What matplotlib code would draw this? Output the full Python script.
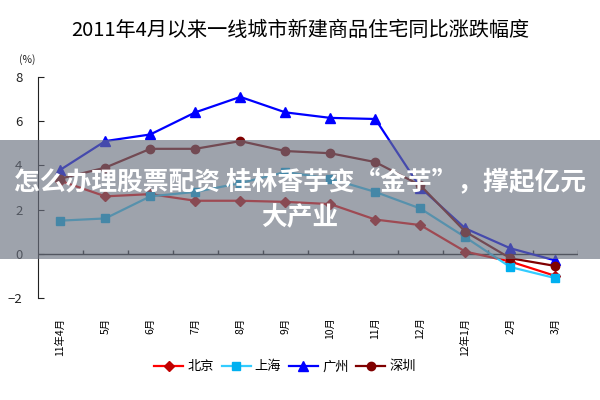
import numpy as np
import matplotlib
matplotlib.use("Agg")
import matplotlib.pyplot as plt
from matplotlib.patches import Rectangle

plt.rcParams['font.family'] = ['Noto Sans CJK SC', 'DejaVu Sans']

months = ['11年4月', '5月', '6月', '7月', '8月', '9月', '10月', '11月', '12月', '12年1月', '2月', '3月']
beijing = [3.3, 2.6, 2.7, 2.4, 2.4, 2.35, 2.25, 1.55, 1.3, 0.1, -0.35, -1.0]
shanghai = [1.5, 1.6, 2.6, 2.8, 3.2, 3.7, 3.4, 2.8, 2.05, 0.75, -0.6, -1.1]
guangzhou = [3.8, 5.1, 5.4, 6.4, 7.1, 6.4, 6.15, 6.1, 3.0, 1.15, 0.25, -0.3]
shenzhen = [3.4, 3.9, 4.75, 4.75, 5.1, 4.65, 4.55, 4.15, 3.1, 1.0, -0.2, -0.55]

series = [
    ('北京', beijing, '#ff0000', '#c00000', 'D', 5),
    ('上海', shanghai, '#33ccff', '#00b0f0', 's', 6),
    ('广州', guangzhou, '#0000ff', '#0000ff', '^', 7),
    ('深圳', shenzhen, '#800000', '#800000', 'o', 6),
]

fig = plt.figure(figsize=(6, 4), dpi=100)
ax = fig.add_axes([0.063, 0.255, 0.9, 0.5525])

x = np.arange(len(months))
for name, vals, lc, mc, mk, ms in series:
    ax.plot(x, vals, color=lc, lw=1.6, marker=mk, ms=ms,
            mfc=mc, mec=mc, label=name, zorder=3)

ax.set_xlim(-0.5, len(months) - 0.5)
ax.set_ylim(-2, 8)
ax.set_yticks([-2, 0, 2, 4, 6, 8])
ax.tick_params(axis='y', direction='in', length=4, labelsize=9.5, colors='#222222', pad=11)
ax.set_xticks(x)
ax.set_xticklabels(months, rotation=90, fontsize=7.5, va='top')
ax.tick_params(axis='x', length=0, pad=14)

for s in ['top', 'right', 'bottom']:
    ax.spines[s].set_visible(False)
ax.spines['left'].set_color('#222222')
ax.axhline(0, color='#222222', lw=1, zorder=2)
ax.vlines(x + 0.5, 0, 0.18, color='#222222', lw=1, zorder=2)

fig.text(0.5, 0.925, '2011年4月以来一线城市新建商品住宅同比涨跌幅度',
         ha='center', va='center', fontsize=14.5, fontweight='medium')
fig.text(0.045, 0.852, '(%)', ha='center', va='center', fontsize=7.5, color='#222222')

fig.legend(loc='center', bbox_to_anchor=(0.475, 0.083), ncol=4, frameon=False,
           fontsize=9.5, handlelength=2.2, handletextpad=0.3, columnspacing=0.6)

# overlay banner
fig.patches.append(Rectangle((0, 1 - 259 / 400), 1, 119 / 400, transform=fig.transFigure,
                             facecolor='#6b7280', alpha=0.65, zorder=10))
fig.text(0.5, 1 - 183 / 400, '怎么办理股票配资 桂林香芋变“金芋”，撑起亿元',
         ha='center', va='center', fontsize=18.5, color='white', fontweight='bold', zorder=11)
fig.text(0.5, 1 - 218 / 400, '大产业',
         ha='center', va='center', fontsize=18.5, color='white', fontweight='bold', zorder=11)

fig.savefig('out.png', dpi=100)
